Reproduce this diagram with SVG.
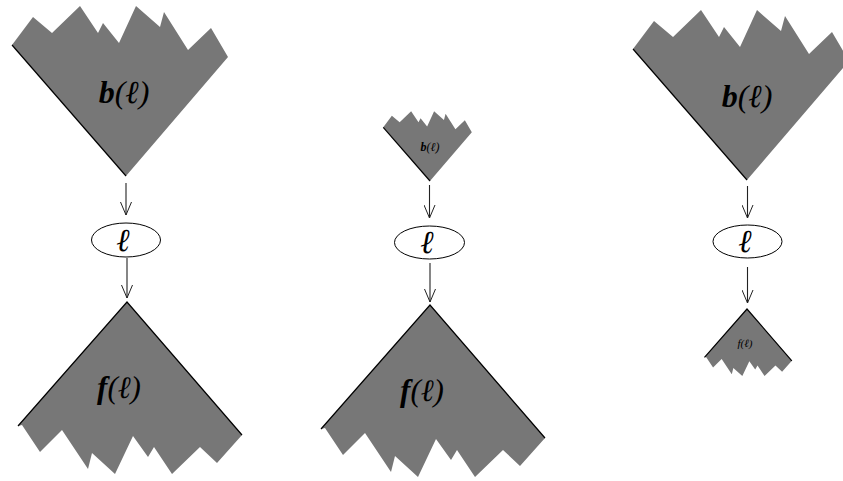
<svg xmlns="http://www.w3.org/2000/svg" xmlns:xlink="http://www.w3.org/1999/xlink" width="843" height="481" viewBox="0 0 843 481">
<style>
.shape{fill:#777777;stroke:none}
.edge{fill:none;stroke:#000;stroke-width:1.2}
.lbl{font-family:"Liberation Serif","DejaVu Serif",serif;font-style:italic;font-weight:bold;fill:#000;text-anchor:middle}
.n{font-weight:normal}
.ell{fill:#fff;stroke:#000;stroke-width:1}
.conn{stroke:#222;stroke-width:1.1;fill:none}
</style>
<defs>
<path id="topShape" d="M0,0 L-114,-131 L-93,-159 L-74,-143 L-46,-170 L-28,-143 L-23,-153 L-7,-133 L10,-170 L34,-149 L38,-164 L62,-126 L85,-148 L102,-119 Z"/>
<path id="topEdge" d="M-114,-131 L0,0" vector-effect="non-scaling-stroke"/>
<path id="botShape" d="M0,0 L-109,124 L-105,123 L-87,150 L-65,128 L-39,167 L-35,151 L-12,172 L6,134 L21,155 L27,145 L45,172 L73,145 L90,161 L115,133 Z"/>
<path id="botEdge" d="M-109,124 L0,0 L115,133" vector-effect="non-scaling-stroke"/>
<marker id="arr" markerUnits="userSpaceOnUse" viewBox="0 0 14 12" refX="13" refY="6" markerWidth="14" markerHeight="12" orient="auto">
<path d="M0,0.5 L13,6 L0,11.5" fill="none" stroke="#222" stroke-width="1"/>
</marker>
</defs>

<g id="b-left">
<use xlink:href="#topShape" class="shape" transform="translate(126,176)"/>
<use xlink:href="#topEdge" class="edge" transform="translate(126,176)"/>
<text class="lbl" x="124" y="103" font-size="32">b<tspan class="n">(ℓ)</tspan></text>
</g>
<g id="l-left">
<ellipse class="ell" cx="126" cy="240" rx="34.5" ry="17"/>
<text class="lbl n" x="123" y="251" font-size="32">ℓ</text>
</g>
<g id="f-left">
<use xlink:href="#botShape" class="shape" transform="translate(127,302)"/>
<use xlink:href="#botEdge" class="edge" transform="translate(127,302)"/>
<text class="lbl" x="119" y="398" font-size="31">f<tspan class="n">(ℓ)</tspan></text>
</g>

<g id="b-mid">
<use xlink:href="#topShape" class="shape" transform="translate(430,181) scale(0.41)"/>
<use xlink:href="#topEdge" class="edge" transform="translate(430,181) scale(0.41)"/>
<text class="lbl" x="430" y="151" font-size="12">b<tspan class="n">(ℓ)</tspan></text>
</g>
<g id="l-mid">
<ellipse class="ell" cx="429.5" cy="242.5" rx="35" ry="16.5"/>
<text class="lbl n" x="427" y="253" font-size="32">ℓ</text>
</g>
<g id="f-mid">
<use xlink:href="#botShape" class="shape" transform="translate(430,305)"/>
<use xlink:href="#botEdge" class="edge" transform="translate(430,305)"/>
<text class="lbl" x="422" y="401" font-size="31">f<tspan class="n">(ℓ)</tspan></text>
</g>

<g id="b-right">
<use xlink:href="#topShape" class="shape" transform="translate(747,180)"/>
<use xlink:href="#topEdge" class="edge" transform="translate(747,180)"/>
<text class="lbl" x="747" y="107" font-size="32">b<tspan class="n">(ℓ)</tspan></text>
</g>
<g id="l-right">
<ellipse class="ell" cx="747.5" cy="241.5" rx="34.5" ry="16.5"/>
<text class="lbl n" x="745" y="252" font-size="32">ℓ</text>
</g>
<g id="f-right">
<use xlink:href="#botShape" class="shape" transform="translate(747,309) scale(0.39)"/>
<use xlink:href="#botEdge" class="edge" transform="translate(747,309) scale(0.39)"/>
<text class="lbl n" x="745" y="347" font-size="11">f(ℓ)</text>
</g>

<g id="connectors">
<line class="conn" x1="126" y1="183" x2="126" y2="215" marker-end="url(#arr)"/>
<line class="conn" x1="127" y1="258" x2="127" y2="298" marker-end="url(#arr)"/>
<line class="conn" x1="429.5" y1="185" x2="429.5" y2="218" marker-end="url(#arr)"/>
<line class="conn" x1="430" y1="263" x2="430" y2="302" marker-end="url(#arr)"/>
<line class="conn" x1="747.5" y1="186" x2="747.5" y2="218" marker-end="url(#arr)"/>
<line class="conn" x1="747.5" y1="267" x2="747.5" y2="303" marker-end="url(#arr)"/>
</g>
</svg>
